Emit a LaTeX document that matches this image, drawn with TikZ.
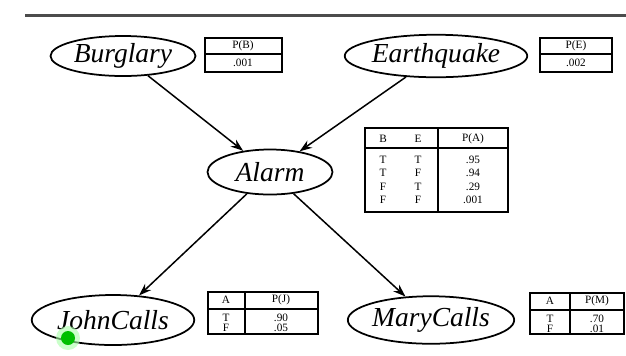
\documentclass[tikz,border=0pt]{standalone}
\usepackage{fontspec}
\setmainfont{Liberation Serif}
\usetikzlibrary{shapes.geometric,arrows.meta}
\tikzset{
  var/.style={ellipse, draw, line width=0.7pt, inner sep=0pt, font=\fontsize{11}{13}\selectfont\itshape},
  cpt/.style={line width=0.8pt},
  cell/.style={font=\fontsize{4.5}{5}\selectfont, inner sep=0pt},
  link/.style={-{Stealth[length=5pt,width=3.5pt]}, line width=0.6pt}
}
\begin{document}
\begin{tikzpicture}[x=0.4pt,y=-0.4pt]
    \useasboundingbox (0,0) rectangle (626,355);
    % rule along the top
    \draw[line width=1.2pt, black!70] (25,15) -- (626,15);

    % the five variables
    \node[var, minimum width=58pt, minimum height=16pt] (burglary) at (123,56) {Burglary};
    \node[var, minimum width=73pt, minimum height=17pt] (earthquake) at (436,56) {Earthquake};
    \node[var, minimum width=50pt, minimum height=18pt] (alarm) at (270,172) {Alarm};
    \node[var, minimum width=65pt, minimum height=20pt] (john) at (113,320) {JohnCalls};
    \node[var, minimum width=65pt, minimum height=19pt] (mary) at (431,320) {MaryCalls};

    \draw[link] (burglary) -- (alarm);
    \draw[link] (earthquake) -- (alarm);
    \draw[link] (alarm) -- (john);
    \draw[link] (alarm) -- (mary);

    % P(B)
    \draw[cpt] (205,38) rectangle (282,72);
    \draw[cpt] (205,54) -- (282,54);
    \node[cell] (pbh) at (243,46) {P(B)};
    \node[cell] (pbv) at (243,63) {.001};

    % P(E)
    \draw[cpt] (540,38) rectangle (612,72);
    \draw[cpt] (540,54) -- (612,54);
    \node[cell] (peh) at (576,46) {P(E)};
    \node[cell] (pev) at (576,63) {.002};

    % P(A | B, E)
    \draw[cpt] (365,128) rectangle (508,212);
    \draw[cpt] (365,148) -- (508,148);
    \draw[cpt] (438,128) -- (438,212);
    \node[cell] (pab) at (383,139) {B};
    \node[cell] (pae) at (418,139) {E};
    \node[cell] (pah) at (473,139) {P(A)};
    \node[cell] (pab1) at (383,160) {T};
    \node[cell] (pae1) at (418,160) {T};
    \node[cell] (pav1) at (473,160) {.95};
    \node[cell] (pab2) at (383,173) {T};
    \node[cell] (pae2) at (418,173) {F};
    \node[cell] (pav2) at (473,173) {.94};
    \node[cell] (pab3) at (383,187) {F};
    \node[cell] (pae3) at (418,187) {T};
    \node[cell] (pav3) at (473,187) {.29};
    \node[cell] (pab4) at (383,200) {F};
    \node[cell] (pae4) at (418,200) {F};
    \node[cell] (pav4) at (473,200) {.001};

    % P(J | A)
    \draw[cpt] (208,292) rectangle (318,334);
    \draw[cpt] (208,309) -- (318,309);
    \draw[cpt] (245,292) -- (245,334);
    \node[cell] (pja) at (226,300) {A};
    \node[cell] (pjh) at (281,300) {P(J)};
    \node[cell] (pja1) at (226,318) {T};
    \node[cell] (pjv1) at (281,318) {.90};
    \node[cell] (pja2) at (226,328) {F};
    \node[cell] (pjv2) at (281,328) {.05};

    % P(M | A)
    \draw[cpt] (530,293) rectangle (624,334);
    \draw[cpt] (530,310) -- (624,310);
    \draw[cpt] (570,293) -- (570,334);
    \node[cell] (pma) at (550,301) {A};
    \node[cell] (pmh) at (597,301) {P(M)};
    \node[cell] (pma1) at (550,319) {T};
    \node[cell] (pmv1) at (597,319) {.70};
    \node[cell] (pma2) at (550,329) {F};
    \node[cell] (pmv2) at (597,329) {.01};

    % pointer dot
    \fill[green!35, opacity=0.6] (68,338) circle (12);
    \fill[green!75!black] (68,338) circle (7);
\end{tikzpicture}
\end{document}
